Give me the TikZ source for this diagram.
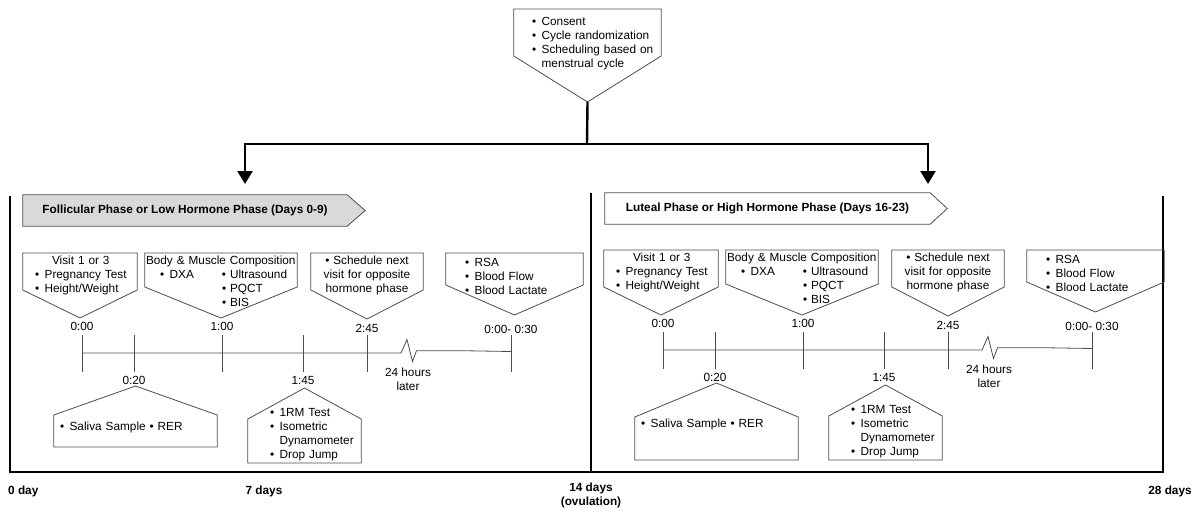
\documentclass[tikz,border=0pt]{standalone}
\usepackage{fontspec}
\setmainfont{Liberation Sans}
\usetikzlibrary{arrows.meta,backgrounds}

% outline of a box whose point hangs below it (node, side depth, tip depth)
\newcommand{\downbox}[3]{%
  \draw[boxline] (#1.north west) -- (#1.north east) -- ([yshift=-#2pt]#1.north east)
    -- ([yshift=-#3pt]#1.north) coordinate (#1-tip) -- ([yshift=-#2pt]#1.north west) -- cycle;}
% outline of a box whose point is on top (node, side depth, bottom depth)
\newcommand{\upbox}[3]{%
  \draw[boxline] (#1.north) -- ([yshift=-#2pt]#1.north east) -- ([yshift=-#3pt]#1.north east)
    -- ([yshift=-#3pt]#1.north west) -- ([yshift=-#2pt]#1.north west) -- cycle;}
\newcommand{\itm}{\textbullet\hspace{5.5pt}}

\begin{document}
\begin{tikzpicture}[x=1pt, y=-1pt,
    font=\fontsize{11.8}{14}\selectfont,
    boxline/.style={draw=black!70, line width=0.8pt},
    tline/.style={draw=black!70, line width=0.8pt},
    frame/.style={draw=black, line width=2.6pt},
    flow/.style={draw=black, line width=2.4pt},
    boxtext/.style={anchor=north, inner xsep=1pt, align=left},
    phase/.style={minimum width=324pt, minimum height=31pt, inner sep=0pt,
                  font=\fontsize{11.8}{14}\selectfont\bfseries},
    tlabel/.style={anchor=base, inner sep=0pt},
    daylab/.style={inner sep=0pt, font=\fontsize{11.8}{14}\selectfont\bfseries},
]
\useasboundingbox (0,0) rectangle (1201,514);

% consent and the split to both phases
\node[boxtext, text width=145pt, inner ysep=6.2pt] (consent) at (587.5,9)
  {\hspace*{17pt}\begin{tabular}[t]{@{}l@{}}\itm Consent\\\itm Cycle randomization\\
   \itm Scheduling based on\\\phantom{\itm}menstrual cycle\end{tabular}};
\downbox{consent}{47}{93}
\coordinate (split) at (587,144);
\coordinate (follIn) at (245,184);
\coordinate (lutIn) at (928,184);
\draw[flow] (consent-tip) -- (split);
\draw[flow, -{Triangle[length=13pt,width=15pt]}] (split) -| (follIn);
\draw[flow, -{Triangle[length=13pt,width=15pt]}] (split) -| (lutIn);

% phase banners
\node[phase] (follicular) at (185,210.5) {Follicular Phase or Low Hormone Phase (Days 0-9)};
\node[phase, minimum width=325pt] (luteal) at (767.5,208.5) {Luteal Phase or High Hormone Phase (Days 16-23)};
\begin{scope}[on background layer]
  \draw[boxline, fill=gray!30] (follicular.north west) -- (follicular.north east)
    -- ([xshift=18pt]follicular.east) -- (follicular.south east) -- (follicular.south west) -- cycle;
  \draw[boxline, fill=white] (luteal.north west) -- (luteal.north east)
    -- ([xshift=17pt]luteal.east) -- (luteal.south east) -- (luteal.south west) -- cycle;
\end{scope}

% frame
\draw[frame] (10,196) -- (10,472) -- (1163,472) -- (1163,196);
\draw[frame] (591,193) -- (591,472);

% the visit timeline, once per phase
\foreach \h/\dx/\dy/\sside/\sbot in {L/0/0/29/61, R/581/-3/34/77}{
\begin{scope}[shift={(\dx,\dy)}]
  \node[boxtext, text width=112pt, inner ysep=1.2pt] (visit\h) at (80,253)
    {\hspace*{11pt}\begin{tabular}[t]{@{}l@{}}\multicolumn{1}{@{}c@{}}{Visit 1 or 3}\\
     \itm Pregnancy Test\\\itm Height/Weight\end{tabular}};
  \node[boxtext, text width=150pt, inner ysep=1.2pt] (body\h) at (221,253)
    {\begin{tabular}[t]{@{}p{76pt}@{}l@{}}\multicolumn{2}{@{}c@{}}{Body \& Muscle Composition}\\
     \hspace*{14pt}\itm DXA & \textbullet{} Ultrasound\\ & \textbullet{} PQCT\\ & \textbullet{} BIS\end{tabular}};
  \node[boxtext, align=center, text width=110pt, inner ysep=3.2pt] (next\h) at (367,253)
    {\textbullet{} Schedule next\\visit for opposite\\hormone phase};
  \node[boxtext, text width=135pt, inner ysep=3.2pt] (rsa\h) at (514.5,253)
    {\hspace*{18pt}\begin{tabular}[t]{@{}l@{}}\itm RSA\\\itm Blood Flow\\\itm Blood Lactate\end{tabular}};
  \downbox{visit\h}{37}{65}
  \downbox{body\h}{34}{65}
  \downbox{next\h}{37}{66}
  \downbox{rsa\h}{32}{62}

  \node[boxtext, text width=161pt, inner ysep=34.2pt] (saliva\h) at (135.5,386)
    {\hspace*{5pt}\begin{tabular}[t]{@{}l@{}}\itm Saliva Sample \textbullet{} RER\end{tabular}};
  \node[boxtext, text width=111pt, inner ysep=18.9pt] (strength\h) at (304.5,388)
    {\hspace*{21pt}\begin{tabular}[t]{@{}l@{}}\itm 1RM Test\\\itm Isometric\\
     \phantom{\itm}Dynamometer\\\itm Drop Jump\end{tabular}};
  \upbox{saliva\h}{\sside}{\sbot}
  \upbox{strength\h}{31}{75}

  % time axis
  \draw[tline] (82,353) -- (401,353) -- (407,339.5) -- (412.5,361.5) -- (416.5,350.7)
    -- (462,350.7) -- (511,351.5);
  \foreach \tx in {82,134,222,303,367,511}
    \draw[tline] (\tx,335) -- (\tx,372);
  \node[tlabel] (t000\h) at (82,330) {0:00};
  \node[tlabel] (t100\h) at (222,330) {1:00};
  \node[tlabel] (t245\h) at (367,332) {2:45};
  \node[tlabel] (t030\h) at (511,333) {0:00- 0:30};
  \node[tlabel] (t020\h) at (134,384) {0:20};
  \node[tlabel] (t145\h) at (303,384) {1:45};
  \node[anchor=north, inner sep=0pt, align=center] (later\h) at (408,368) {24 hours\\later};
\end{scope}
}

% cycle days
\node[daylab, anchor=base west] (day0) at (8,494) {0 day};
\node[daylab, anchor=base] (day7) at (264,494) {7 days};
\node[daylab, anchor=north, align=center] (day14) at (591,483) {14 days\\(ovulation)};
\node[daylab, anchor=base] (day28) at (1170,494) {28 days};
\end{tikzpicture}
\end{document}
